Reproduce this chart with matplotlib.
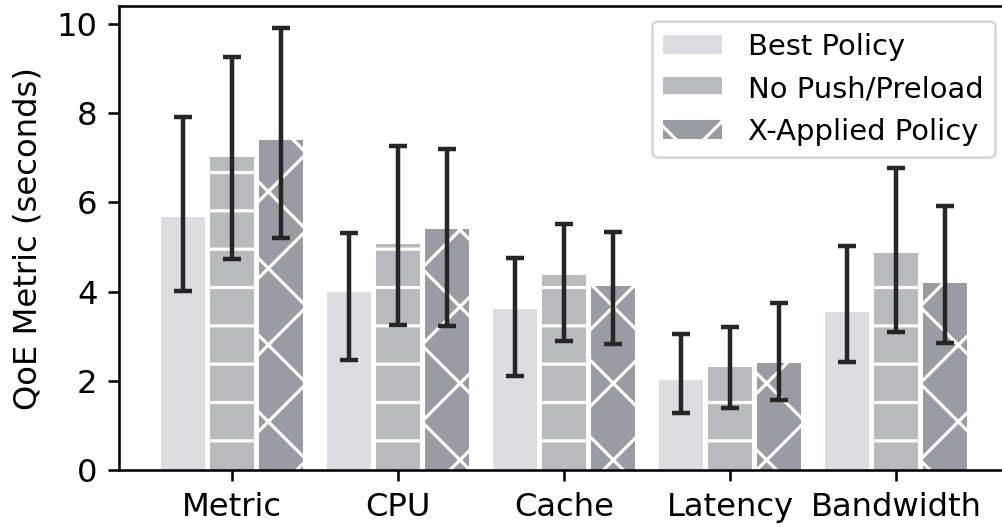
import matplotlib
matplotlib.use("Agg")
import matplotlib.pyplot as plt
import numpy as np

categories = ["Metric", "CPU", "Cache", "Latency", "Bandwidth"]
series_names = ["Best Policy", "No Push/Preload", "X-Applied Policy"]

best_mean = [5.67, 3.99, 3.61, 2.02, 3.55]
best_low = [4.01, 2.46, 2.12, 1.29, 2.42]
best_high = [7.91, 5.31, 4.76, 3.05, 5.03]

nopush_mean = [7.02, 5.08, 4.37, 2.32, 4.87]
nopush_low = [4.74, 3.26, 2.90, 1.40, 3.09]
nopush_high = [9.25, 7.26, 5.51, 3.20, 6.77]

xapp_mean = [7.40, 5.40, 4.12, 2.41, 4.20]
xapp_low = [5.20, 3.24, 2.84, 1.57, 2.86]
xapp_high = [9.90, 7.20, 5.33, 3.74, 5.91]

colors = ["#dddde1", "#b9babe", "#9b9ba3"]
hatches = ["", "-", "x"]

DPI = 230
plt.rcParams["hatch.color"] = "white"
plt.rcParams["hatch.linewidth"] = 1.0
plt.rcParams["font.family"] = ["DejaVu Sans"]

fig = plt.figure(figsize=(1002 / DPI, 527 / DPI), dpi=DPI)
ax = fig.add_axes([119.3 / 1002, (527 - 470.3) / 527, (1009.1 - 119.3) / 1002, (470.3 - 6) / 527])

x = np.arange(len(categories))
pitch = 0.295
width = 0.262
data = [(best_mean, best_low, best_high), (nopush_mean, nopush_low, nopush_high),
        (xapp_mean, xapp_low, xapp_high)]
for i, (m, lo, hi) in enumerate(data):
    m = np.array(m); lo = np.array(lo); hi = np.array(hi)
    pos = x + (i - 1) * pitch
    ax.bar(pos, m, width=width, color=colors[i], edgecolor="white", linewidth=0,
           hatch=hatches[i], label=series_names[i], zorder=2)
    ax.errorbar(pos, m, yerr=[m - lo, hi - m], fmt="none", ecolor="#262626",
                elinewidth=1.4, capsize=2.9, capthick=1.4, zorder=3)

ax.set_xlim(-0.68, 4.68)
ax.set_ylim(0, 10.4)
ax.set_yticks([0, 2, 4, 6, 8, 10])
ax.set_xticks(x)
ax.set_xticklabels(categories)
ax.tick_params(axis="both", labelsize=10.1, width=0.8, length=3.3, color="black")
ax.set_ylabel("QoE Metric (seconds)", fontsize=10.1, labelpad=4)
for s in ax.spines.values():
    s.set_linewidth(0.8)

leg = ax.legend(loc="upper right", bbox_to_anchor=(995 / 1002, 1 - 21 / 527),
                bbox_transform=fig.transFigure, borderaxespad=0, fontsize=9.1,
                frameon=True, fancybox=True, handlelength=2.0, handleheight=0.65,
                handletextpad=0.9, labelspacing=0.5)
leg.get_frame().set_edgecolor("#cccccc")
leg.get_frame().set_linewidth(0.8)

fig.savefig("out.png", dpi=DPI)
